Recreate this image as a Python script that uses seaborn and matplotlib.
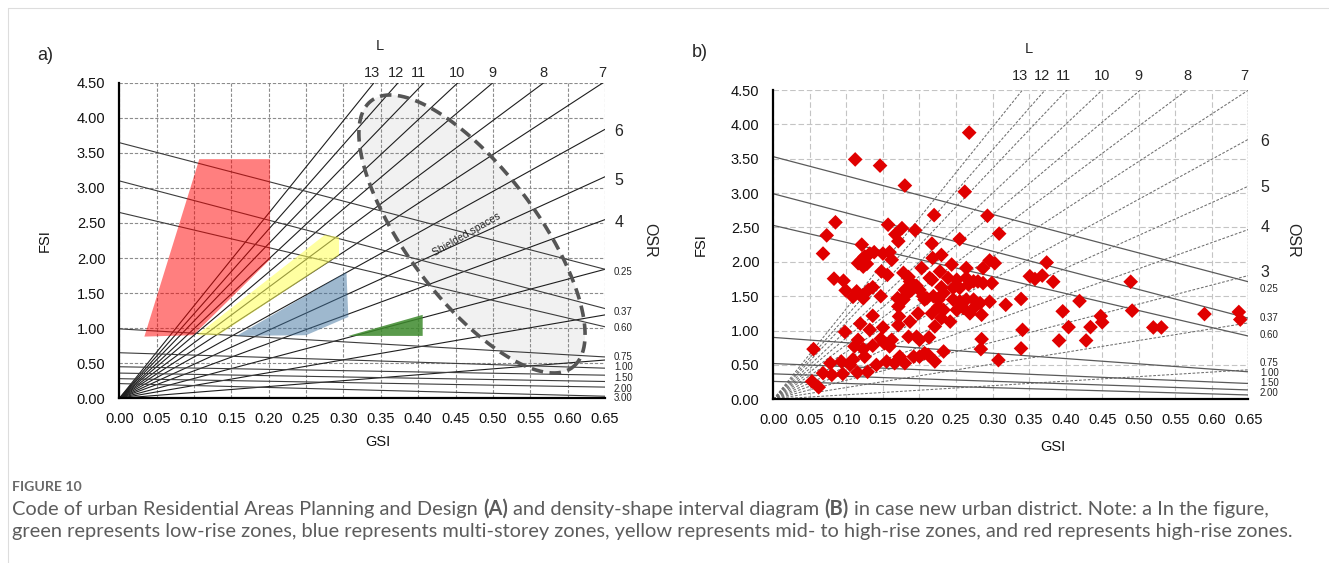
import numpy as np
import pandas as pd
import matplotlib.pyplot as plt
import seaborn as sns
from matplotlib.lines import Line2D

sns.set_style('white')
plt.rcParams['font.family'] = ['Liberation Sans', 'DejaVu Sans']

# ---- data ----
gsi_ticks = [0.00, 0.05, 0.10, 0.15, 0.20, 0.25, 0.30, 0.35, 0.40, 0.45, 0.50, 0.55, 0.60, 0.65]
fsi_ticks = [0.00, 0.50, 1.00, 1.50, 2.00, 2.50, 3.00, 3.50, 4.00, 4.50]

# L lines (FSI = L * GSI), slopes as drawn
a_L_slopes = [13.2, 12.06, 11.03, 9.93, 9.0, 7.92, 6.95, 5.9, 4.86, 3.92, 2.83, 1.83, 0.84]
b_L_slopes = [13.2, 12.1, 11.2, 10.0, 8.96, 7.95, 6.92, 5.82, 4.77, 3.80, 2.77, 1.71, 0.66]
L_top_labels = ['13', '12', '11', '10', '9', '8', '7']
a_L_top_x = [0.338, 0.370, 0.400, 0.452, 0.499, 0.568, 0.647]
b_L_top_x = [0.338, 0.368, 0.397, 0.450, 0.499, 0.566, 0.644]
L_right_labels = ['6', '5', '4']
a_L_right_y = [3.80, 3.11, 2.50]
b_L_right_labels = ['6', '5', '4', '3']
b_L_right_y = [3.75, 3.08, 2.50, 1.84]

# OSR lines: FSI at GSI=0 and at GSI=0.65
a_osr_start = [3.645, 3.10, 2.65, 0.99, 0.65, 0.45, 0.36, 0.28, 0.21]
a_osr_end = [1.84, 1.28, 1.02, 0.59, 0.43, 0.33, 0.24, 0.16, 0.03]
b_osr_start = [3.53, 2.99, 2.53, 0.90, 0.52, 0.37, 0.26]
b_osr_end = [1.71, 1.18, 0.92, 0.40, 0.23, 0.136, 0.063]
a_osr_labels = ['0.25', '0.37', '0.60', '0.75', '1.00', '1.50', '2.00', '3.00']
a_osr_label_y = [1.80, 1.235, 1.00, 0.59, 0.44, 0.285, 0.14, 0.01]
b_osr_labels = ['0.25', '0.37', '0.60', '0.75', '1.00', '1.50', '2.00']
b_osr_label_y = [1.61, 1.18, 0.94, 0.53, 0.385, 0.24, 0.09]

# planning zones (panel a)
red_gsi = [0.0335, 0.107, 0.2017, 0.2017, 0.099]
red_fsi = [0.88, 3.41, 3.41, 1.98, 0.90]
yellow_gsi = [0.1035, 0.275, 0.294, 0.294, 0.1325]
yellow_fsi = [0.90, 2.33, 2.30, 2.04, 0.90]
blue_gsi = [0.157, 0.304, 0.3065, 0.25]
blue_fsi = [0.89, 1.80, 1.16, 0.90]
green_gsi = [0.3065, 0.406, 0.406]
green_fsi = [0.89, 1.19, 0.89]

# shielded spaces ellipse: centre and conjugate semi-axes (GSI, FSI)
ell_center = (0.472, 2.343)
ell_major = (0.1345, -1.902)
ell_minor = (0.0695, 0.557)

# case district samples (panel b)
b_gsi = [0.112, 0.146, 0.180, 0.268, 0.262,
         0.085, 0.157, 0.176, 0.194, 0.220, 0.293,
         0.073, 0.068, 0.121, 0.167, 0.171, 0.217, 0.255, 0.309,
         0.116, 0.121, 0.125, 0.132, 0.138, 0.150, 0.159, 0.162, 0.123, 0.128,
         0.218, 0.230, 0.244, 0.264, 0.287, 0.296, 0.303,
         0.083, 0.096, 0.099, 0.109, 0.114, 0.123, 0.130, 0.136, 0.147, 0.148,
         0.156, 0.178, 0.185, 0.187, 0.180, 0.182, 0.189, 0.196, 0.200, 0.203,
         0.214, 0.217, 0.210, 0.207, 0.219, 0.226, 0.228, 0.239, 0.233, 0.246,
         0.251, 0.255, 0.264, 0.267, 0.274, 0.280, 0.287, 0.299, 0.246, 0.255,
         0.264, 0.274, 0.283, 0.230, 0.205, 0.170, 0.178,
         0.055, 0.053, 0.062, 0.068, 0.080, 0.078, 0.095, 0.093, 0.098, 0.105,
         0.109, 0.111, 0.115, 0.116, 0.119, 0.123, 0.125, 0.129, 0.132, 0.136,
         0.136, 0.141, 0.147, 0.150, 0.152, 0.155, 0.159, 0.162, 0.166, 0.171,
         0.173, 0.172, 0.171, 0.180, 0.185, 0.187, 0.192, 0.196, 0.200, 0.198,
         0.200, 0.207, 0.212, 0.213, 0.221, 0.221, 0.230, 0.233, 0.242, 0.217,
         0.226, 0.233, 0.251, 0.260, 0.269, 0.277, 0.285, 0.285, 0.284, 0.296,
         0.308,
         0.318, 0.339, 0.341, 0.339, 0.351, 0.358, 0.368, 0.374, 0.383, 0.396,
         0.391, 0.404, 0.419, 0.428, 0.434, 0.448, 0.450, 0.489, 0.491, 0.520,
         0.531, 0.590, 0.637, 0.639]
b_fsi = [3.49, 3.40, 3.11, 3.88, 3.02,
         2.575, 2.54, 2.49, 2.46, 2.68, 2.67,
         2.385, 2.12, 2.25, 2.40, 2.30, 2.265, 2.33, 2.41,
         1.98, 2.03, 2.08, 2.12, 2.14, 2.12, 2.14, 2.03, 1.93, 1.97,
         2.055, 2.10, 1.96, 1.91, 1.91, 2.02, 1.98,
         1.755, 1.725, 1.585, 1.49, 1.57, 1.47, 1.59, 1.63, 1.50, 1.86,
         1.81, 1.84, 1.78, 1.715, 1.59, 1.52, 1.59, 1.65, 1.59, 1.91,
         1.765, 1.74, 1.47, 1.45, 1.50, 1.45, 1.86, 1.765, 1.545, 1.62,
         1.74, 1.62, 1.765, 1.67, 1.715, 1.715, 1.69, 1.69, 1.45, 1.425,
         1.45, 1.45, 1.40, 1.63, 1.50, 1.47, 1.45,
         0.73, 0.26, 0.175, 0.38, 0.355, 0.525, 0.37, 0.55, 0.98, 0.50,
         0.58, 0.77, 0.39, 0.865, 1.10, 0.73, 0.62, 0.40, 1.01, 0.78,
         1.215, 0.50, 0.88, 1.045, 0.815, 0.55, 0.77, 0.865, 0.525, 1.08,
         0.62, 1.205, 1.35, 0.525, 0.91, 1.13, 0.62, 0.91, 0.865, 1.25,
         0.62, 0.67, 0.645, 0.90, 0.55, 1.06, 1.18, 0.695, 1.13, 1.25,
         1.35, 1.30, 1.30, 1.33, 1.25, 1.36, 1.23, 0.875, 0.73, 1.42,
         0.57,
         1.375, 1.46, 1.01, 0.74, 1.79, 1.75, 1.80, 1.99, 1.71, 1.28,
         0.855, 1.05, 1.43, 0.855, 1.05, 1.21, 1.12, 1.71, 1.29, 1.045,
         1.045, 1.24, 1.27, 1.16]


def segments(x0, y0, x1, y1):
    rows = []
    for i, (a, b, c, d) in enumerate(zip(x0, y0, x1, y1)):
        rows.append((i, a, b))
        rows.append((i, c, d))
    return pd.DataFrame(rows, columns=['line', 'GSI', 'FSI'])


def setup(ax, grid_color, dash):
    ax.set_xlim(0, 0.65)
    ax.set_ylim(0, 4.5)
    ax.set_xticks(gsi_ticks)
    ax.set_yticks(fsi_ticks)
    ax.set_xticklabels([f'{v:.2f}' for v in gsi_ticks])
    ax.set_yticklabels([f'{v:.2f}' for v in fsi_ticks])
    ax.grid(True, color=grid_color, linestyle=(0, dash), linewidth=0.8)
    ax.set_axisbelow(True)
    for s in ['top', 'right']:
        ax.spines[s].set_visible(False)
    for s in ['left', 'bottom']:
        ax.spines[s].set_color('black')
        ax.spines[s].set_linewidth(1.6)
        ax.spines[s].set_zorder(5)
    ax.tick_params(length=0, labelsize=10.5, pad=10, labelcolor='#111111')
    ax.set_xlabel('')
    ax.set_ylabel('')
    ax.text(-0.153, 0.5, 'FSI', transform=ax.transAxes, rotation=90,
            ha='center', va='center', fontsize=10.5, color='#111111')


fig = plt.figure(figsize=(13.29, 5.63), dpi=100)
ax_a = fig.add_axes([0.0898, 0.2925, 0.3654, 0.5606])
ax_b = fig.add_axes([0.5819, 0.2908, 0.3574, 0.5493])

# ---------------- panel a ----------------
n = len(a_L_slopes)
sns.lineplot(data=segments([0] * n, [0] * n, [0.65] * n, [s * 0.65 for s in a_L_slopes]),
             x='GSI', y='FSI', units='line', estimator=None, sort=False,
             color='#1e1e1e', linewidth=0.8, ax=ax_a, legend=False, zorder=2)
n = len(a_osr_start)
sns.lineplot(data=segments([0] * n, a_osr_start, [0.65] * n, a_osr_end),
             x='GSI', y='FSI', units='line', estimator=None, sort=False,
             color='#3c3c3c', linewidth=0.8, ax=ax_a, legend=False, zorder=2)

t = np.linspace(0, 2 * np.pi, 300)
ex = ell_center[0] + ell_major[0] * np.cos(t) + ell_minor[0] * np.sin(t)
ey = ell_center[1] + ell_major[1] * np.cos(t) + ell_minor[1] * np.sin(t)
ax_a.fill(ex, ey, color='#f1f1f1', zorder=0.4, lw=0)
ax_a.plot(ex, ey, color='#555555', lw=2.6, linestyle=(0, (3.2, 1.8)), zorder=4)
ax_a.text(0.465, 2.33, 'Shielded spaces', rotation=30, fontsize=7.5,
          ha='center', va='center', color='#222222', zorder=4)

ax_a.fill(red_gsi, red_fsi, color='#ff0000', alpha=0.5, lw=0, zorder=3)
ax_a.fill(yellow_gsi, yellow_fsi, color='#ffff55', alpha=0.55, lw=0, zorder=3)
ax_a.fill(blue_gsi, blue_fsi, color='#3f729e', alpha=0.5, lw=0, zorder=3)
ax_a.fill(green_gsi, green_fsi, color='#3d8a2c', alpha=0.85, lw=0, zorder=3)

setup(ax_a, '#8c8c8c', (3, 1.6))
ax_a.text(0.533, -0.138, 'GSI', transform=ax_a.transAxes, ha='center', va='center',
          fontsize=10.5, color='#111111')

for lab, x in zip(L_top_labels, a_L_top_x):
    ax_a.text(x, 4.64, lab, ha='center', va='center', fontsize=10.5, clip_on=False)
ax_a.text(0.349, 5.02, 'L', ha='center', va='center', fontsize=10.5, clip_on=False)
for lab, y in zip(L_right_labels, a_L_right_y):
    ax_a.text(0.669, y, lab, ha='center', va='center', fontsize=11.5, clip_on=False)
for lab, y in zip(a_osr_labels, a_osr_label_y):
    ax_a.text(0.662, y, lab, ha='left', va='center', fontsize=7, clip_on=False)
ax_a.text(0.710, 2.257, 'OSR', rotation=-90, ha='center', va='center', fontsize=11.5, clip_on=False)

# ---------------- panel b ----------------
n = len(b_L_slopes)
sns.lineplot(data=segments([0] * n, [0] * n, [0.65] * n, [s * 0.65 for s in b_L_slopes]),
             x='GSI', y='FSI', units='line', estimator=None, sort=False,
             color='#6e6e6e', linewidth=0.75, linestyle=(0, (2.6, 1.6)),
             ax=ax_b, legend=False, zorder=2)
n = len(b_osr_start)
sns.lineplot(data=segments([0] * n, b_osr_start, [0.65] * n, b_osr_end),
             x='GSI', y='FSI', units='line', estimator=None, sort=False,
             color='#5a5a5a', linewidth=0.9, ax=ax_b, legend=False, zorder=2)

pts = pd.DataFrame({'GSI': b_gsi, 'FSI': b_fsi})
sns.scatterplot(data=pts, x='GSI', y='FSI', marker='D', s=56, color='#e00000',
                edgecolor='none', ax=ax_b, zorder=4, clip_on=False)

setup(ax_b, '#c4c4c4', (5, 2.5))
ax_b.axvline(0.65, color='#555555', lw=0.9, linestyle=(0, (1.5, 1)), zorder=1)
ax_b.text(0.588, -0.154, 'GSI', transform=ax_b.transAxes, ha='center', va='center',
          fontsize=10.5, color='#111111')

for lab, x in zip(L_top_labels, b_L_top_x):
    ax_b.text(x, 4.71, lab, ha='center', va='center', fontsize=10.5, clip_on=False)
ax_b.text(0.350, 5.09, 'L', ha='center', va='center', fontsize=10.5, clip_on=False)
for lab, y in zip(b_L_right_labels, b_L_right_y):
    ax_b.text(0.673, y, lab, ha='center', va='center', fontsize=11.5, clip_on=False)
for lab, y in zip(b_osr_labels, b_osr_label_y):
    ax_b.text(0.666, y, lab, ha='left', va='center', fontsize=7, clip_on=False)
ax_b.text(0.711, 2.32, 'OSR', rotation=-90, ha='center', va='center', fontsize=11.5, clip_on=False)

fig.text(0.0339, 0.902, 'a)', fontsize=13, ha='center', va='center')
fig.text(0.5267, 0.9076, 'b)', fontsize=13, ha='center', va='center')

# ---------------- frame and caption ----------------
fig.add_artist(Line2D([8 / 1329, 1], [1 - 8 / 563, 1 - 8 / 563], color='#dddddd', lw=0.8))
fig.add_artist(Line2D([8 / 1329, 8 / 1329], [0, 1 - 8 / 563], color='#dddddd', lw=0.8))

cap_font = ['Lato', 'DejaVu Sans']
renderer = fig.canvas.get_renderer()
W = fig.get_figwidth() * fig.dpi


def text_w(s, size, weight):
    tt = fig.text(0, 0, s, fontsize=size, fontweight=weight, family=cap_font)
    w = tt.get_window_extent(renderer).width
    tt.remove()
    return w


def rich_line(parts, x_px, y_frac, size, color):
    space = text_w('x x', size, 'normal') - text_w('xx', size, 'normal')
    x = x_px
    for s, bold in parts:
        weight = 'bold' if bold else 'normal'
        lead = len(s) - len(s.lstrip(' '))
        x += lead * space
        body = s.strip(' ')
        tt = fig.text(x / W, y_frac, body, fontsize=size, fontweight=weight,
                      family=cap_font, color=color, va='center', ha='left')
        x += tt.get_window_extent(renderer).width
        x += (len(s) - len(s.rstrip(' '))) * space


fig.text(12 / W, 1 - 487 / 563, 'FIGURE 10', fontsize=10.2, fontweight='bold',
         family=cap_font, color='#6a6a6a', va='center')
rich_line([('Code of urban Residential Areas Planning and Design ', False), ('(A)', True),
           (' and density-shape interval diagram ', False), ('(B)', True),
           (' in case new urban district. Note: a In the figure,', False)],
          12, 1 - 509 / 563, 14.4, '#5c5c5c')
rich_line([('green represents low-rise zones, blue represents multi-storey zones, yellow represents '
            'mid- to high-rise zones, and red represents high-rise zones.', False)],
          12, 1 - 532 / 563, 14.4, '#5c5c5c')

fig.savefig('out.png', dpi=100)
